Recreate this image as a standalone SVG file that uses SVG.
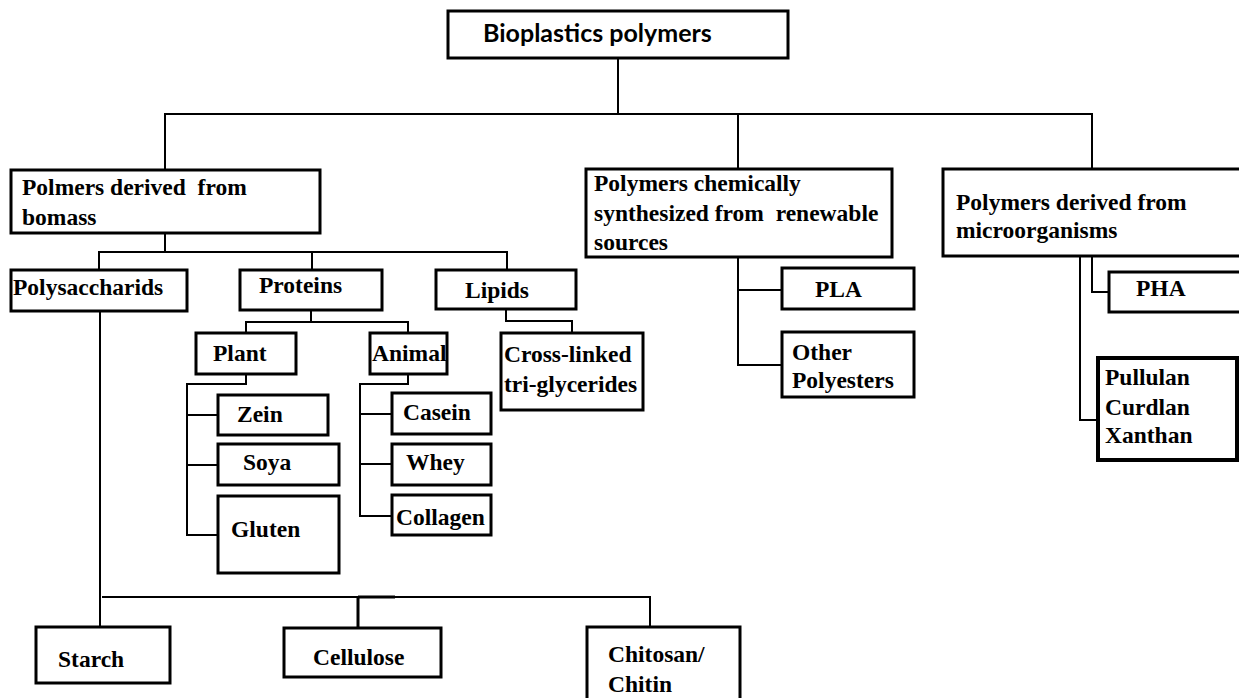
<svg xmlns="http://www.w3.org/2000/svg" width="1239" height="698" viewBox="0 0 1239 698">
<style>
.box{fill:#fff;stroke:#000;stroke-width:3}
.thick{stroke-width:4}
.t{font-weight:bold;font-size:23.5px;fill:#000}
.title{font-weight:bold;font-size:25px;fill:#000}
.c{fill:none;stroke:#000;stroke-width:2}
</style>
<rect width="1239" height="698" fill="#fff"/>
<g id="connectors">
<path class="c" d="M618 58V114M165 170V114H1092V169M738 114V169"/>
<path class="c" d="M165 233V252M99 270V252H507V270M312 252V270"/>
<path class="c" d="M311 310V322M246 333V322H408V333"/>
<path class="c" d="M506 309V321H572V333"/>
<path class="c" d="M246 374V384H187V535H218M187 415H218M187 465H218"/>
<path class="c" d="M408 374V384H360V516H392M360 414H392M360 464H392"/>
<path class="c" d="M738 257V365H782M738 290H782"/>
<path class="c" d="M1092 256V292H1109M1080 250V420H1098"/>
<path class="c" d="M100 311V627M102 597H650V627"/>
<path class="c" style="stroke-width:3" d="M358 597V628M358 597H395"/>
</g>
<g font-family="'Liberation Serif', 'DejaVu Serif', serif">
<g id="n-root" font-family="Lato, 'Open Sans', sans-serif"><rect class="box" x="448" y="11" width="340" height="47"/><text class="title" x="483" y="42">Bioplastics polymers</text></g>
<g id="n-biomass"><rect class="box" x="11" y="170" width="309" height="63"/><text class="t" x="22" y="195" xml:space="preserve">Polmers derived  from</text><text class="t" x="22" y="225">bomass</text></g>
<g id="n-chem"><rect class="box" x="586" y="169" width="306" height="88"/><text class="t" x="594" y="191">Polymers chemically</text><text class="t" x="594" y="221" xml:space="preserve">synthesized from  renewable</text><text class="t" x="594" y="250">sources</text></g>
<g id="n-micro"><rect class="box" x="943" y="169" width="300" height="87"/><text class="t" x="956" y="210">Polymers derived from</text><text class="t" x="956" y="238">microorganisms</text></g>
<g id="n-polysacc"><rect class="box" x="11" y="270" width="176" height="41"/><text class="t" x="13" y="295">Polysaccharids</text></g>
<g id="n-proteins"><rect class="box" x="240" y="270" width="142" height="40"/><text class="t" x="259" y="293">Proteins</text></g>
<g id="n-lipids"><rect class="box" x="436" y="270" width="140" height="39"/><text class="t" x="465" y="298">Lipids</text></g>
<g id="n-plant"><rect class="box" x="196" y="333" width="100" height="41"/><text class="t" x="213" y="361">Plant</text></g>
<g id="n-animal"><rect class="box" x="370" y="333" width="77" height="41"/><text class="t" x="372" y="361">Animal</text></g>
<g id="n-crosslinked"><rect class="box" x="501" y="333" width="142" height="77"/><text class="t" x="504" y="362">Cross-linked</text><text class="t" x="504" y="392">tri-glycerides</text></g>
<g id="n-zein"><rect class="box" x="218" y="395" width="110" height="40"/><text class="t" x="237" y="422">Zein</text></g>
<g id="n-soya"><rect class="box" x="218" y="444" width="121" height="41"/><text class="t" x="243" y="470">Soya</text></g>
<g id="n-gluten"><rect class="box" x="218" y="496" width="121" height="77"/><text class="t" x="231" y="537">Gluten</text></g>
<g id="n-casein"><rect class="box" x="392" y="393" width="99" height="41"/><text class="t" x="403" y="420">Casein</text></g>
<g id="n-whey"><rect class="box" x="392" y="444" width="99" height="41"/><text class="t" x="406" y="470">Whey</text></g>
<g id="n-collagen"><rect class="box" x="392" y="495" width="99" height="40"/><text class="t" x="396" y="525">Collagen</text></g>
<g id="n-pla"><rect class="box" x="782" y="268" width="132" height="41"/><text class="t" x="815" y="297">PLA</text></g>
<g id="n-other"><rect class="box" x="782" y="332" width="132" height="65"/><text class="t" x="792" y="360">Other</text><text class="t" x="792" y="388">Polyesters</text></g>
<g id="n-pha"><rect class="box" x="1109" y="272" width="134" height="40"/><text class="t" x="1136" y="296">PHA</text></g>
<g id="n-pullulan"><rect class="box thick" x="1098" y="358" width="139" height="102"/><text class="t" x="1105" y="385">Pullulan</text><text class="t" x="1105" y="415">Curdlan</text><text class="t" x="1105" y="443">Xanthan</text></g>
<g id="n-starch"><rect class="box" x="36" y="627" width="134" height="56"/><text class="t" x="58" y="667">Starch</text></g>
<g id="n-cellulose"><rect class="box" x="284" y="628" width="157" height="49"/><text class="t" x="313" y="665">Cellulose</text></g>
<g id="n-chitosan"><rect class="box" x="587" y="627" width="153" height="80"/><text class="t" x="608" y="662">Chitosan/</text><text class="t" x="608" y="692">Chitin</text></g>
</g>
</svg>
